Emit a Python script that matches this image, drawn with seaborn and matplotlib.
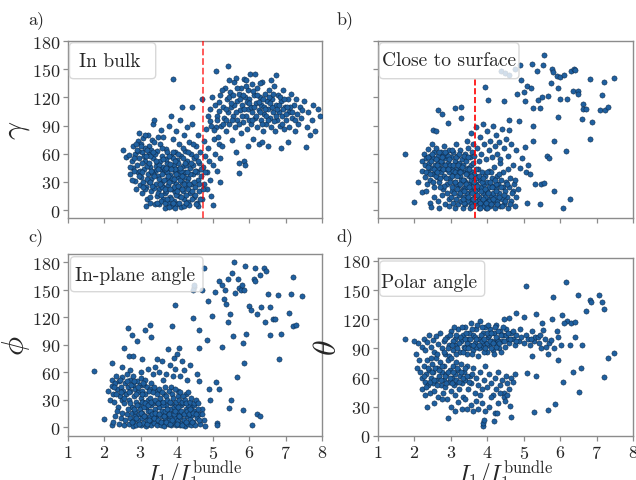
import numpy as np
import pandas as pd
import matplotlib
matplotlib.use("Agg")
import matplotlib.pyplot as plt
from matplotlib.patches import FancyBboxPatch
import seaborn as sns

# ---------------- data: (I1/I1_bundle, angle) ----------------
bulk_pts = [
(2.51,64),(2.59,56),(2.68,59),(2.75,52),(2.80,45),(2.72,38),(2.85,31),(2.88,22),(2.78,68),(2.92,74),(2.95,82),(2.86,60),(2.97,55),(2.90,48),(2.93,40),(3.00,35),(2.98,27),(3.03,18),(3.05,62),(3.02,70),(3.08,77),(3.10,44),(3.12,52),(3.07,30),(3.15,25),(3.16,4),(3.18,12),(3.20,38),(3.22,60),(3.25,46),(3.24,68),(3.28,20),(3.30,33),(3.27,8),(3.33,55),(3.35,92),(3.38,96),(3.32,75),(3.40,42),(3.42,28),(3.44,15),(3.46,63),(3.48,36),(3.45,50),(3.50,22),(3.52,6),(3.55,85),(3.53,70),(3.57,44),(3.58,30),(3.60,58),(3.62,12),(3.63,25),(3.65,40),(3.66,2),(3.68,18),(3.70,65),(3.72,33),(3.74,50),(3.75,8),(3.76,27),(3.78,90),(3.79,45),(3.80,14),(3.82,37),(3.83,58),(3.85,100),(3.86,22),(3.87,4),(3.88,76),(3.89,139),(3.90,31),(3.91,48),(3.93,10),(3.94,40),(3.95,62),(3.96,19),(3.97,84),(3.98,28),(4.00,53),(4.01,6),(4.02,35),(4.03,44),(4.05,15),(4.06,70),(4.07,25),(4.08,96),(4.10,38),(4.11,58),(4.12,3),(4.14,110),(4.15,30),(4.16,47),(4.18,20),(4.19,80),(4.20,12),(4.22,63),(4.23,41),(4.25,26),(4.27,88),(4.28,52),(4.30,9),(4.31,34),(4.33,72),(4.35,18),(4.36,45),(4.38,60),(4.40,28),(4.42,110),(4.43,92),(4.44,38),(4.46,14),(4.48,55),(4.50,24),(4.52,68),(4.53,42),(4.55,8),(4.57,32),(4.58,80),(4.60,50),(4.62,20),(4.64,62),(4.66,36),(4.68,118),(4.70,12),(4.72,46),(4.74,74),(4.76,28),(4.78,58),(4.80,86),(4.82,40),(4.84,22),(4.86,66),(4.88,52),(4.90,32),(4.92,95),(4.95,15),(4.99,5),(5.00,48),(5.02,76),(5.05,60),(5.08,88),(5.10,42),(5.12,100),(5.15,70),(5.18,30),(5.20,55),
(3.22,30),(3.26,14),(3.31,40),(3.36,23),(3.39,6),(3.43,47),(3.47,18),(3.51,33),(3.54,52),(3.56,10),(3.59,24),(3.61,46),(3.64,32),(3.67,8),(3.69,54),(3.71,20),(3.73,40),(3.77,3),(3.79,30),(3.81,49),(3.84,12),(3.86,34),(3.88,55),(3.92,24),(3.94,2),(3.96,44),(3.99,16),(4.02,26),(4.04,50),(4.06,8),(4.09,32),(4.12,42),(4.13,22),(4.17,55),(4.20,35),(4.21,4),(4.24,16),(4.26,48),(4.29,30),(4.32,22),(4.34,5),(4.37,38),(4.41,12),(4.45,48),(4.47,30),(4.51,16),(4.54,58),(4.56,40),(4.59,4),(4.61,28),
(2.82,55),(2.87,70),(2.94,63),(2.99,42),(3.04,50),(3.09,58),(3.13,66),(3.17,47),(3.21,80),(3.26,57),(3.29,64),(3.34,38),(3.37,72),(3.41,60),(3.49,78),(3.52,48),(3.58,66),(3.63,78),(3.68,44),(3.74,62),
(3.05,40),(3.11,22),(3.14,58),(3.19,33),(3.23,50),(3.28,42),(3.31,26),(3.35,62),(3.38,36),(3.42,52),(3.46,8),(3.49,44),(3.53,28),(3.57,16),(3.60,38),(3.63,54),(3.66,22),(3.70,45),(3.72,12),(3.76,36),(3.78,58),(3.81,22),(3.85,44),(3.88,8),(3.90,62),(3.93,33),(3.96,52),(3.99,38),(4.01,20),(4.04,60),(4.08,45),(4.11,14),(4.14,36),(4.17,66),(4.19,28),(4.22,50),(4.26,8),(4.28,40),(4.31,62),(4.34,28),(4.38,50),(4.42,20),(4.44,70),(4.49,42),(4.52,6),(4.57,52),(4.63,12),(4.67,44),(4.72,22),(4.77,40),(2.70,46),(2.76,32),(2.83,42),(2.89,64),(2.96,36),(3.01,68),(3.06,24),(3.12,80),(3.18,64),(3.27,30),
(4.85,100),(4.90,108),(4.95,90),(4.98,120),(5.03,85),(5.05,112),(5.08,148),(5.10,96),(5.13,78),(5.16,105),(5.20,122),(5.22,90),(5.25,68),(5.27,110),(5.30,98),(5.32,130),(5.35,84),(5.38,118),(5.40,104),(5.42,153),(5.45,92),(5.47,126),(5.50,110),(5.52,75),(5.55,100),(5.57,136),(5.60,88),(5.62,62),(5.63,141),(5.65,116),(5.67,96),(5.70,124),(5.71,39),(5.72,50),(5.74,106),(5.76,82),(5.78,130),(5.80,112),(5.82,94),(5.84,52),(5.85,140),(5.87,120),(5.88,48),(5.90,100),(5.92,86),(5.95,128),(5.97,108),(6.00,118),(6.02,145),(6.04,92),(6.06,134),(6.08,104),(6.10,76),(6.12,122),(6.14,98),(6.16,145),(6.18,114),(6.20,88),(6.22,130),(6.25,106),(6.27,70),(6.29,120),(6.31,96),(6.33,112),(6.36,136),(6.38,84),(6.40,102),(6.42,124),(6.45,92),(6.48,116),(6.50,68),(6.52,108),(6.55,128),(6.57,98),(6.60,88),(6.62,118),(6.65,104),(6.67,132),(6.70,84),(6.72,112),(6.74,144),(6.77,96),(6.80,122),(6.82,104),(6.85,90),(6.88,116),(6.90,100),(6.93,128),(6.96,86),(6.98,110),(7.02,96),(7.05,118),(7.08,104),(7.10,88),(7.14,124),(7.18,98),(7.22,112),(7.26,84),(7.30,102),(7.35,92),(7.40,110),(7.45,106),(7.50,116),(7.56,67),(7.60,88),(7.66,80),(7.72,96),(7.80,84),(7.90,108),(7.95,100),
(5.15,115),(5.28,92),(5.36,108),(5.44,120),(5.53,96),(5.58,112),(5.66,130),(5.73,118),(5.79,100),(5.86,108),(5.93,115),(5.99,96),(6.05,110),(6.11,127),(6.19,100),(6.26,115),(6.34,92),(6.41,110),(6.47,100),(6.53,120),(6.61,110),(6.69,95),(6.76,108),(6.84,120),(6.92,108),(7.00,102),(7.12,110),(7.25,96),
(6.88,66),(7.05,72),(6.35,72),(5.95,68),
(5.35,96),(5.48,114),(5.56,122),(5.64,104),(5.72,92),(5.82,122),(5.91,132),(5.98,114),(6.07,96),(6.13,110),(6.21,122),(6.28,104),(6.37,118),(6.44,108),(6.51,96),(6.58,114),(6.66,124),(6.73,100),(6.81,112),(6.89,92),(6.95,118),(7.03,110),(7.16,104),(7.28,118),(5.25,128),(5.45,138),(5.90,138),(6.30,135),(6.60,138),(7.42,98),(7.62,104),(7.75,112),
]

surface_pts = [
(2.20,52),(2.22,42),(2.25,60),(2.28,35),(2.30,48),(2.32,55),(2.34,28),(2.36,65),(2.38,40),(2.40,50),(2.42,58),(2.44,32),(2.46,45),(2.48,70),(2.50,38),(2.52,55),(2.54,62),(2.55,25),(2.57,48),(2.59,42),(2.60,66),(2.62,35),(2.64,52),(2.66,58),(2.68,30),(2.70,45),(2.72,62),(2.74,40),(2.76,50),(2.78,22),(2.80,68),(2.82,36),(2.84,55),(2.86,44),(2.88,60),(2.90,28),(2.92,50),(2.94,40),(2.96,64),(2.98,34),(3.00,56),(3.02,46),(3.04,20),(3.06,62),(3.08,38),(3.10,52),(3.12,30),(3.14,70),(3.16,44),(3.18,58),(3.20,26),(3.22,50),(3.24,36),(3.26,64),(3.28,42),(3.30,54),(3.32,22),(3.34,48),(3.36,32),(3.38,60),(3.40,40),(3.42,52),(3.44,28),(3.46,66),(3.48,45),(3.50,36),(3.52,56),(3.54,24),(3.56,48),(3.58,62),
(2.45,52),(2.65,45),(2.85,48),(3.05,42),(2.58,36),(2.78,58),(2.98,48),(3.15,56),(2.38,46),(2.72,52),(2.92,58),(3.25,46),(3.45,40),
(2.31,40),(2.37,56),(2.43,38),(2.49,60),(2.53,44),(2.58,54),(2.63,40),(2.67,62),(2.71,34),(2.75,56),(2.79,44),(2.83,62),(2.87,34),(2.91,44),(2.95,54),(2.99,30),(3.03,64),(3.07,48),(3.11,40),(3.15,28),(3.19,48),(3.23,60),(3.27,32),(3.31,46),(3.35,58),(3.39,30),(3.43,44),(3.47,56),(3.51,28),(3.57,40),(3.61,50),(3.66,36),(2.62,48),(2.82,26),(3.02,36),(3.21,40),(2.50,30),(2.70,24),
(1.99,9),(2.42,8),(2.46,3),(2.20,19),(2.33,20),(2.10,30),(2.55,14),(2.65,10),(2.75,16),(2.85,6),(2.95,12),(2.68,2),(2.90,18),
(2.95,4),(3.00,14),(3.02,24),(3.05,8),(3.08,18),(3.10,30),(3.12,2),(3.14,12),(3.16,22),(3.18,36),(3.20,6),(3.22,16),(3.24,28),(3.26,40),(3.28,10),(3.30,20),(3.32,2),(3.34,32),(3.36,14),(3.38,24),(3.40,6),(3.42,38),(3.44,18),(3.46,28),(3.48,10),(3.50,44),(3.52,2),(3.54,20),(3.56,32),(3.58,12),(3.60,26),(3.62,4),(3.64,38),(3.66,16),(3.68,28),(3.70,8),(3.72,22),(3.74,44),(3.76,2),(3.78,14),(3.80,32),(3.82,24),(3.84,6),(3.86,40),(3.88,18),(3.90,28),(3.92,10),(3.94,36),(3.96,2),(3.98,20),(4.00,30),(4.02,12),(4.04,42),(4.06,24),(4.08,4),(4.10,16),(4.12,34),(4.14,8),(4.16,26),(4.18,46),(4.20,14),(4.22,2),(4.24,22),(4.26,36),(4.28,10),(4.30,28),(4.32,18),(4.34,50),(4.36,4),(4.38,32),(4.40,12),(4.42,24),(4.44,40),(4.46,6),(4.48,20),(4.50,30),(4.53,14),(4.56,44),(4.58,2),(4.60,24),(4.63,34),(4.66,10),(4.70,20),(4.73,28),(4.76,4),(4.80,14),(4.85,22),
(3.35,8),(3.55,6),(3.75,10),(3.95,14),(4.15,18),(3.45,24),(3.65,20),(3.85,30),(4.05,10),(4.25,28),(3.25,18),(3.55,36),(3.70,34),(3.90,4),(4.10,40),
(3.33,12),(3.37,20),(3.41,28),(3.47,14),(3.51,24),(3.57,4),(3.59,18),(3.63,30),(3.67,10),(3.71,26),(3.73,16),(3.77,36),(3.81,8),(3.83,20),(3.87,12),(3.89,34),(3.93,22),(3.97,8),(3.99,40),(4.03,18),(4.07,30),(4.11,6),(4.13,24),(4.17,12),(4.21,32),(4.23,20),(4.27,6),(4.31,14),(4.33,38),(4.37,24),(4.41,4),(4.45,16),(4.49,10),(4.55,28),(4.61,6),(4.67,18),(3.61,12),(3.79,2),(3.69,44),(3.99,2),
(3.45,74),(3.55,82),(3.60,70),(3.64,58),(3.68,88),(3.72,66),(3.76,52),(3.80,78),(3.84,60),(3.88,92),(3.92,70),(3.96,54),(4.00,84),(4.04,64),(4.08,74),(4.12,56),(4.16,90),(4.20,68),(4.24,80),(4.28,60),(4.32,72),(4.36,54),(4.40,86),(4.46,66),(4.52,76),(4.58,58),(4.60,96),(4.60,85),(4.64,70),(4.70,48),(4.75,32),(4.78,64),(4.86,95),(4.90,45),(4.96,55),(5.03,67),(5.05,40),(5.10,8),(5.12,48),(5.16,38),(5.26,74),(5.26,89),(5.30,28),(5.44,6),(5.48,28),(5.55,29),(5.65,57),(5.70,55),(5.82,20),(5.83,73),(6.08,2),(6.16,63),(6.26,12),(6.83,76),
(1.73,60),(2.50,85),(2.60,84),(2.65,107),(2.77,102),(2.92,93),(3.12,109),(3.27,110),(3.28,98),
(3.95,131),(4.02,117),(4.46,116),(4.82,124),(4.90,154),(4.93,138),(5.03,116),(5.10,132),(5.20,130),(5.24,156),(5.26,109),(5.36,148),(5.40,117),(5.45,109),(5.50,120),(5.53,154),(5.55,165),(5.67,121),(5.77,150),(5.80,147),(5.75,135),(5.90,143),(5.95,130),(6.00,142),(6.10,144),(6.00,118),(6.20,118),(6.30,148),(6.38,150),(6.42,149),(6.36,127),(6.50,127),(6.48,124),(6.63,113),(6.63,108),(6.72,108),(5.95,99),(6.59,97),(6.87,94),(6.81,140),(7.15,122),(7.21,136),(7.10,107),(7.22,107),(7.30,110),(7.47,141),(5.02,126),
(4.39,148),(4.48,146),(4.75,150),(4.60,144),
]

inplane_pts = [
(2.00,9),(2.10,40),(2.15,30),(2.20,45),(2.22,52),(2.25,36),(2.28,28),(2.30,48),(2.32,56),(2.35,42),(2.38,22),(2.40,50),(2.42,34),(2.45,44),(2.48,30),(2.50,55),(2.52,40),(2.55,26),(2.58,48),(2.60,36),(2.62,58),(2.65,44),(2.68,30),(2.70,52),(2.72,40),(2.75,22),(2.78,46),(2.80,56),(2.82,34),(2.85,42),(2.88,28),(2.90,50),(2.92,38),(2.95,24),(2.98,46),(3.00,32),(3.02,54),(3.05,40),(3.08,28),(3.10,46),(3.12,36),(3.15,22),(3.18,44),(3.20,30),
(2.33,36),(2.43,52),(2.53,32),(2.63,50),(2.73,46),(2.83,50),(2.93,44),(3.03,36),(3.13,52),(2.27,44),(2.47,38),(2.67,38),(2.87,36),(3.07,48),(3.26,42),(3.46,40),(3.64,36),(3.84,44),(4.04,40),(4.24,36),
(2.22,2),(2.25,6),(2.30,12),(2.35,18),(2.40,4),(2.45,10),(2.50,16),(2.55,2),(2.58,8),(2.62,14),(2.65,20),(2.68,4),(2.72,10),(2.75,16),(2.78,1),(2.80,7),(2.84,12),(2.86,18),(2.88,3),(2.92,8),(2.95,14),(2.98,20),(3.00,2),(3.03,10),(3.05,16),(3.08,5),(3.10,22),(3.12,12),(3.15,1),(3.18,8),(3.20,18),(3.22,4),(3.25,12),(3.28,24),(3.30,2),(3.32,8),(3.35,16),(3.38,5),(3.40,20),(3.42,11),(3.45,2),(3.48,14),(3.50,7),(3.52,22),(3.55,3),(3.58,12),(3.60,18),(3.62,6),(3.65,1),(3.68,10),(3.70,24),(3.72,15),(3.75,4),(3.78,8),(3.80,20),(3.82,12),(3.85,2),(3.88,16),(3.90,6),(3.92,22),(3.95,10),(3.98,3),(4.00,14),(4.02,8),(4.05,18),(4.08,2),(4.10,11),(4.12,24),(4.15,5),(4.18,15),(4.20,8),(4.22,1),(4.25,20),(4.28,12),(4.30,4),(4.32,16),(4.35,9),(4.38,2),(4.40,22),(4.42,13),(4.45,6),(4.48,18),(4.50,3),(4.55,10),(4.60,14),(4.65,4),(4.70,20),(4.75,8),(4.78,1),
(2.71,26),(2.76,6),(2.81,20),(2.87,10),(2.91,24),(2.96,4),(3.01,16),(3.04,28),(3.09,12),(3.13,26),(3.17,4),(3.21,24),(3.24,8),(3.27,18),(3.31,14),(3.34,26),(3.37,10),(3.41,16),(3.44,26),(3.47,8),(3.51,14),(3.54,28),(3.57,6),(3.61,24),(3.64,12),(3.67,18),(3.71,6),(3.74,20),(3.77,14),(3.81,4),(3.84,26),(3.87,8),(3.91,14),(3.94,18),(3.97,24),(4.01,4),(4.04,22),(4.07,12),(4.11,18),(4.14,2),(4.17,26),(4.21,14),(4.24,6),(4.27,18),(4.31,24),(4.34,14),(4.37,20),(4.41,6),(4.44,16),(4.47,24),(4.53,14),(4.57,20),(4.62,8),(4.68,14),
(3.22,40),(3.25,32),(3.28,48),(3.30,28),(3.33,38),(3.36,44),(3.40,30),(3.44,36),(3.48,26),(3.50,42),(3.54,32),(3.58,38),(3.62,28),(3.66,44),(3.70,34),(3.74,30),(3.78,40),(3.82,28),(3.86,36),(3.90,32),(3.94,42),(3.98,28),(4.02,34),(4.06,30),(4.10,38),(4.14,28),(4.18,34),(4.22,30),(4.26,26),(4.30,38),(4.35,28),(4.40,32),(4.46,26),(4.52,30),(4.58,27),
(1.73,61),(2.20,70),(2.48,66),(2.54,86),(2.64,108),(2.68,78),(2.75,101),(2.70,62),(2.89,94),(2.78,78),(3.00,60),(3.05,75),(3.12,106),(3.27,112),(3.28,99),(3.20,64),(3.35,58),(3.40,66),(3.45,75),(3.52,60),(3.58,72),(3.62,52),(3.70,58),(3.75,85),(3.80,68),(3.87,111),(3.88,56),(3.92,76),(3.95,64),(3.96,133),(4.00,80),(4.05,86),(4.10,56),(4.15,72),(4.20,62),(4.28,52),(4.35,68),(4.45,119),(4.47,153),(4.55,58),(4.60,106),(4.60,86),(4.62,50),(4.69,150),(4.76,174),(4.82,95),(4.85,138),(4.96,121),(4.88,42),(4.90,30),(5.07,49),(5.15,42),(5.10,5),(5.12,2),(5.43,21),(5.50,30),(5.24,88),
(5.05,148),(5.15,160),(5.25,155),(5.30,140),(5.33,150),(5.35,134),(5.40,162),(5.46,124),(5.40,115),(5.51,168),(5.55,100),(5.57,180),(5.68,162),(5.72,152),(5.76,150),(5.80,155),(5.65,55),(5.82,92),(5.85,70),(5.87,176),(5.90,102),(5.82,19),(6.00,132),(6.04,128),(6.06,2),(6.12,162),(6.16,174),(6.20,124),(6.20,14),(6.28,12),(6.32,131),(6.40,174),(6.42,115),(6.47,170),(6.52,145),(6.57,131),(6.58,101),(6.65,118),(6.70,118),(6.80,144),(6.82,75),(6.86,102),(7.08,125),(7.15,145),(7.19,164),(7.20,111),(7.28,112),(7.46,143),(5.60,146),(5.85,150),(6.15,160),(6.30,166),
(4.45,150),(4.48,155),
]

polar_pts = [
(2.10,96),(2.20,92),(2.25,100),(2.30,88),(2.35,97),(2.40,104),(2.45,92),(2.50,99),(2.55,86),(2.60,103),(2.65,95),(2.70,106),(2.75,90),(2.80,98),(2.85,84),(2.90,102),(2.95,94),(3.00,108),(3.05,88),(3.10,100),(3.15,94),(3.20,110),(3.25,86),(3.28,98),(3.32,104),(3.35,92),(3.40,112),(3.44,84),(3.48,100),(3.52,94),(3.55,116),(3.60,88),(3.62,104),(3.66,96),(3.70,110),(3.74,82),(3.78,100),(3.80,118),(3.84,92),(3.88,106),(3.92,96),(3.95,112),(3.98,86),(4.02,102),(4.05,94),(4.08,110),(4.12,98),(4.15,88),(4.18,106),(4.22,96),(4.25,114),(4.28,100),(4.32,90),(4.35,108),(4.40,98),(4.44,104),(4.48,92),(4.52,110),(4.56,100),(4.60,96),(4.65,106),(4.70,100),(4.75,94),(4.80,104),(4.86,98),(4.92,102),(5.00,96),(5.06,104),(5.12,100),(5.18,94),(5.22,108),(5.28,98),(5.32,102),
(3.05,98),(3.25,102),(3.45,96),(3.65,102),(3.85,98),(4.05,104),(4.25,92),(3.15,84),(3.38,90),(3.58,84),(3.78,90),(3.98,96),(4.18,84),(4.38,86),(2.95,82),(3.50,106),(3.70,92),(3.90,86),(4.10,90),(4.30,98),
(2.85,100),(2.92,90),(2.98,104),(3.03,94),(3.08,112),(3.13,104),(3.18,90),(3.23,96),(3.30,112),(3.34,86),(3.38,100),(3.42,106),(3.46,90),(3.53,100),(3.57,110),(3.61,94),(3.68,100),(3.72,114),(3.76,94),(3.82,104),(3.86,112),(3.90,100),(3.94,90),(3.99,106),(4.03,114),(4.07,98),(4.11,106),(4.16,96),(4.20,112),(4.24,102),(4.29,108),(4.33,96),(4.37,104),(4.42,112),(4.46,98),(4.51,104),(4.58,106),(4.63,100),(4.70,108),(4.78,98),
(2.15,66),(2.20,60),(2.22,48),(2.25,72),(2.28,56),(2.30,42),(2.32,64),(2.35,78),(2.38,52),(2.40,68),(2.42,44),(2.45,60),(2.48,74),(2.50,54),(2.52,66),(2.55,46),(2.58,80),(2.60,58),(2.62,70),(2.65,40),(2.68,62),(2.70,76),(2.72,52),(2.75,66),(2.78,44),(2.80,58),(2.82,72),(2.85,50),(2.88,64),(2.90,38),(2.92,78),(2.95,56),(2.98,68),(3.00,46),(3.02,60),(3.05,72),(3.08,52),(3.10,64),(3.12,42),(3.15,76),(3.18,56),(3.20,68),(3.22,48),(3.25,62),(3.28,74),(3.30,54),(3.33,40),(3.36,66),(3.40,58),(3.44,72),(3.48,48),(3.52,62),(3.56,54),(3.60,70),(3.65,44),(3.70,60),(3.75,52),(3.80,66),(3.85,48),(3.90,58),(3.95,72),(4.00,50),(4.05,64),(4.10,54),(4.15,42),(4.20,60),(4.25,48),(4.30,66),(4.35,52),(4.40,58),(4.45,44),(4.50,62),(4.55,54),(4.60,48),(4.65,60),(4.70,56),(4.75,64),
(2.27,62),(2.33,50),(2.37,70),(2.43,56),(2.47,66),(2.53,58),(2.57,70),(2.63,52),(2.67,68),(2.73,58),(2.77,72),(2.83,62),(2.87,54),(2.93,66),(2.97,60),(3.03,54),(3.07,66),(3.13,58),(3.17,70),(3.23,56),(3.27,66),(3.33,60),(3.38,70),(3.43,62),(3.50,56),(3.58,64),(2.45,80),(2.62,84),(2.80,86),(3.00,80),
(2.35,30),(2.55,34),(2.75,38),(2.92,18),(3.00,30),(3.10,26),(3.20,35),(3.30,28),(3.40,38),(3.45,28),(3.55,32),(3.60,26),(3.70,36),(3.75,28),(3.80,42),(3.85,34),(3.89,10),(3.89,13),(3.90,16),(3.95,26),(4.05,30),(4.10,40),(4.18,15),(4.20,24),(4.28,24),(4.35,44),(4.45,40),(4.55,42),(4.62,31),(4.64,20),(4.48,36),(4.30,34),
(1.73,100),(1.98,98),(2.05,84),(2.08,70),(2.12,78),
(4.80,126),(4.60,121),(4.45,120),(4.90,110),(5.02,122),(5.05,154),(5.10,65),(5.22,82),(5.27,25),(5.33,62),(5.34,125),(5.38,102),(5.42,96),(5.50,116),(5.54,109),(5.48,90),(5.58,100),(5.62,92),(5.66,84),(5.70,96),(5.75,99),(5.77,120),(5.81,143),(5.83,90),(5.67,27),(5.85,33),(5.95,78),(5.94,102),(6.03,94),(6.05,124),(6.08,56),(6.17,158),(6.20,118),(6.26,94),(6.30,116),(6.36,66),(6.42,102),(6.48,145),(6.52,45),(6.58,70),(6.60,94),(6.71,129),(6.83,140),(6.86,138),(7.08,145),(7.15,138),(7.20,131),(7.20,61),(7.31,80),(7.47,85),(6.40,117),(6.10,116),(5.90,108),(5.20,100),(5.46,104),
]

panel_letters = ["a)", "b)", "c)", "d)"]
panel_titles = ["In bulk", "Close to surface", "In-plane angle", "Polar angle"]
angle_labels = [r"$\gamma$", None, r"$\phi$", r"$\theta$"]
xlabel = r"$I_1/I_1^{\mathrm{bundle}}$"
y_ticks = [0, 30, 60, 90, 120, 150, 180]
x_ticks = [1, 2, 3, 4, 5, 6, 7, 8]
threshold_bulk = 4.72
threshold_surface = 3.65

# ---------------- style ----------------
sns.set_style("ticks")
plt.rcParams["font.family"] = ["serif"]
plt.rcParams["font.serif"] = ["cmr10", "DejaVu Serif"]
plt.rcParams["mathtext.fontset"] = "cm"
plt.rcParams["axes.formatter.use_mathtext"] = True
plt.rcParams["axes.unicode_minus"] = False

W, H = 636, 481
fig = plt.figure(figsize=(W / 100, H / 100), dpi=100)
def add_ax(l, t, r, b):
    return fig.add_axes([l / W, 1 - b / H, (r - l) / W, (b - t) / H])

ax_a = add_ax(68, 42, 322, 219)
ax_b = add_ax(378, 42, 633, 219)
ax_c = add_ax(68, 255, 322, 437)
ax_d = add_ax(378, 259, 633, 437)
axes = [ax_a, ax_b, ax_c, ax_d]
datasets = [bulk_pts, surface_pts, inplane_pts, polar_pts]
ylims = [(-8.5, 180), (-8.5, 180), (-9.5, 189), (0, 183)]

# label boxes (pixel layout): box left, top, right, bottom; text left, baseline
box_layout = [
    (69.5, 43.7, 155.7, 79.7, 79.3, 67.0),
    (379.3, 43.7, 519.0, 79.7, 381.5, 66.5),
    (70.5, 257.7, 203.0, 292.7, 74.7, 281.0),
    (379.7, 262.0, 484.7, 297.3, 381.3, 288.0),
]

pt_color = "#1f60a0"
edge_color = "#0b2440"
inch = fig.dpi_scale_trans

for i, (ax, pts) in enumerate(zip(axes, datasets)):
    df = pd.DataFrame(pts, columns=["ratio", "angle"])
    sns.scatterplot(data=df, x="ratio", y="angle", ax=ax, s=14,
                    color=pt_color, edgecolor=edge_color, linewidth=0.35, zorder=3)
    ax.set_xlim(1, 8)
    ax.set_ylim(*ylims[i])
    ax.set_xticks(x_ticks)
    ax.set_yticks(y_ticks)
    for sp in ax.spines.values():
        sp.set_color("#8c8c8c")
        sp.set_linewidth(1.0)
    ax.tick_params(axis="both", direction="out", length=3.5, width=0.9,
                   color="#8c8c8c", labelsize=13, pad=2)
    ax.set_xlabel("")
    ax.set_ylabel("")
    if i in (0, 1):
        ax.set_xticklabels([])
    if i == 1:
        ax.set_yticklabels([])
    if angle_labels[i]:
        ax.set_ylabel(angle_labels[i], fontsize=23, labelpad=0)
    if i in (2, 3):
        ax.set_xlabel(xlabel, fontsize=17, labelpad=-1)
    bl, bt, br, bb, tl, tb = box_layout[i]
    box = FancyBboxPatch((bl / 100, (H - bb) / 100), (br - bl) / 100, (bb - bt) / 100,
                         boxstyle="round,pad=0,rounding_size=0.04",
                         transform=inch, fc="white", ec="#cfcfcf", lw=1.0,
                         alpha=0.8, zorder=5, clip_on=False)
    ax.add_patch(box)
    ax.text(tl / 100, (H - tb) / 100, panel_titles[i], transform=inch,
            fontsize=14, ha="left", va="baseline", zorder=6)

ax_a.axvline(threshold_bulk, color="red", alpha=0.7, ls="--", lw=1.3, zorder=4)
ax_b.vlines(threshold_surface, -8.5, 140, color="red", ls="--", lw=1.2, zorder=4)

letter_pos = [(36, 20), (345, 20), (36, 237), (345, 237)]
for lab, (px, py) in zip(panel_letters, letter_pos):
    fig.text(px / W, 1 - py / H, lab, fontsize=13, ha="center", va="center")

fig.savefig("out.png", dpi=100)
